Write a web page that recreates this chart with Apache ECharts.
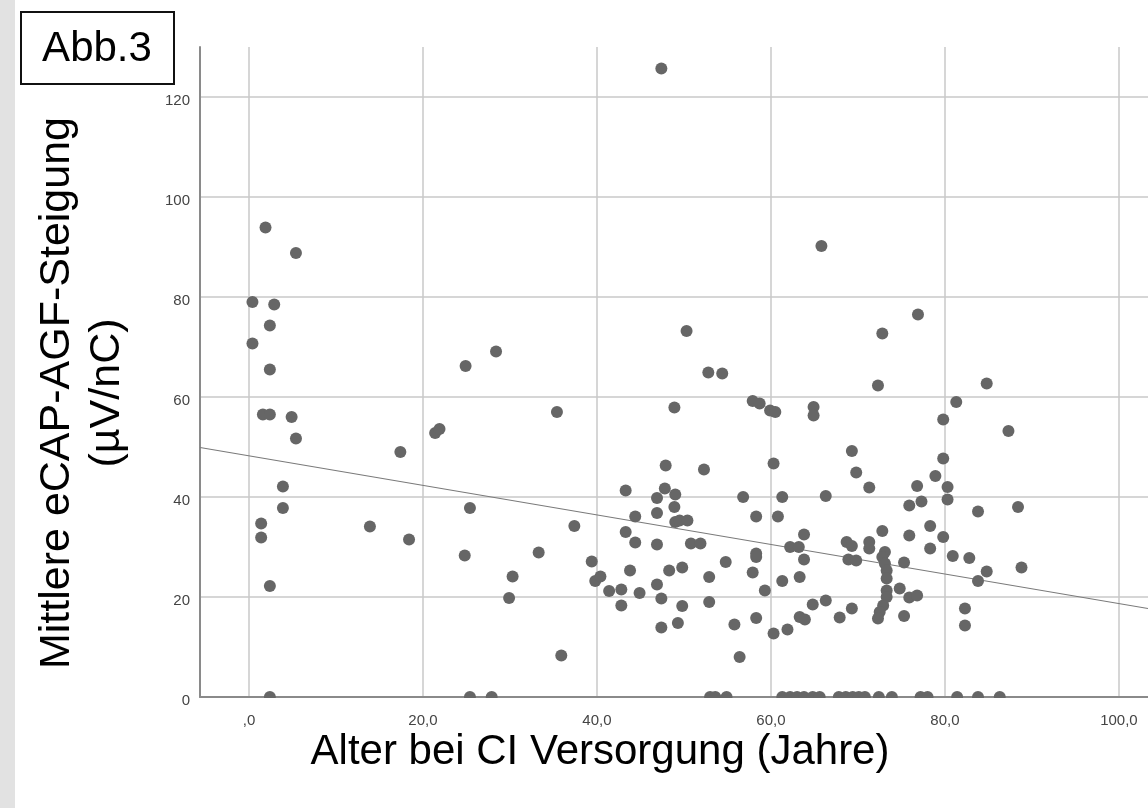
<!DOCTYPE html>
<html>
<head>
<meta charset="utf-8">
<script src="https://cdn.jsdelivr.net/npm/echarts@6/dist/echarts.min.js"></script>
<style>
html,body{margin:0;padding:0;background:#fff;}
#chart{width:1148px;height:808px;}
</style>
</head>
<body>
<div id="chart"></div>
<script>
// Age at CI implantation (years)
const ages = [
  1.9, 5.4, 0.4, 2.9, 2.4, 0.4, 2.4, 28.4, 24.9, 1.6, 2.4, 4.9, 5.4, 17.4, 35.4, 21.4, 21.9,
  3.9, 3.9, 1.4, 1.4, 13.9, 18.4, 25.4, 37.4, 24.8, 33.3, 39.4, 39.8, 30.3, 29.9, 2.4, 35.9,
  47.4, 65.8, 50.3, 72.8, 52.8, 54.4, 72.3, 48.9, 57.9, 58.7, 59.9, 60.5, 64.9, 64.9,
  47.9, 52.3, 60.3, 69.3, 69.8, 71.3, 43.3, 47.8, 49.0, 46.9, 56.8, 61.3, 66.3, 48.9,
  46.9, 44.4, 58.3, 60.8, 49.0, 49.5, 50.4, 43.3, 44.4, 46.9, 50.8, 51.9, 63.8, 62.2,
  63.2, 63.8, 68.7, 69.3, 68.9, 69.8, 71.3, 71.3, 72.8, 40.4, 41.4, 42.8, 44.9, 42.8,
  43.8, 46.9, 47.4, 48.3, 49.8, 49.8, 47.4, 49.3, 52.9, 52.9, 54.8, 57.9, 58.3, 58.3,
  59.3, 61.3, 63.3, 55.8, 58.3, 56.4, 60.3, 61.9, 63.3, 63.9, 64.8, 66.3, 67.9, 69.3,
  84.8, 81.3, 79.8, 87.3, 79.8, 78.9, 76.8, 80.3, 80.3, 75.9, 77.3, 83.8, 88.4, 75.9,
  78.3, 79.8, 78.3, 73.1, 72.8, 73.1, 73.3, 73.3, 75.3, 80.9, 82.8, 84.8, 83.8, 88.8,
  73.3, 73.3, 72.9, 72.5, 72.3, 74.8, 75.9, 76.8, 75.3, 82.3, 82.3, 76.9,
  2.4, 25.4, 27.9, 53.0, 53.6, 54.9, 61.3, 62.2, 63.0, 63.8, 64.8, 65.6, 67.8, 68.6,
  69.4, 70.1, 70.8, 72.4, 73.9, 77.2, 78.0, 81.4, 83.8, 86.3
];
// Mean eCAP-AGF slope (µV/nC)
const slopes = [
  93.9, 88.8, 79.0, 78.5, 74.3, 70.7, 65.5, 69.1, 66.2, 56.5, 56.5, 56.0, 51.7, 49.0, 57.0, 52.8, 53.6,
  42.1, 37.8, 34.7, 31.9, 34.1, 31.5, 37.8, 34.2, 28.3, 28.9, 27.1, 23.2, 24.1, 19.8, 22.2, 8.3,
  125.7, 90.2, 73.2, 72.7, 64.9, 64.7, 62.3, 57.9, 59.2, 58.7, 57.3, 57.0, 58.0, 56.3,
  46.3, 45.5, 46.7, 49.2, 44.9, 41.9, 41.3, 41.7, 40.5, 39.8, 40.0, 40.0, 40.2, 38.0,
  36.8, 36.1, 36.1, 36.1, 35.0, 35.3, 35.3, 33.0, 30.9, 30.5, 30.7, 30.7, 32.5, 30.0,
  30.0, 27.5, 31.0, 30.2, 27.5, 27.3, 31.0, 29.7, 33.2, 24.1, 21.2, 21.5, 20.8, 18.3,
  25.3, 22.5, 19.7, 25.3, 25.9, 18.2, 13.9, 14.8, 24.0, 19.0, 27.0, 24.9, 28.7, 28.0,
  21.3, 23.2, 24.0, 14.5, 15.8, 8.0, 12.7, 13.5, 16.0, 15.5, 18.5, 19.3, 15.9, 17.7,
  62.7, 59.0, 55.5, 53.2, 47.7, 44.2, 42.2, 42.0, 39.5, 38.3, 39.1, 37.1, 38.0, 32.3,
  34.2, 32.0, 29.7, 29.0, 28.0, 26.7, 25.3, 23.7, 26.9, 28.2, 27.8, 25.1, 23.2, 25.9,
  21.3, 20.0, 18.3, 17.0, 15.7, 21.7, 19.9, 20.3, 16.2, 17.7, 14.3, 76.5,
  0, 0, 0, 0, 0, 0, 0, 0, 0, 0, 0, 0, 0, 0,
  0, 0, 0, 0, 0, 0, 0, 0, 0, 0
];
// Fit line endpoints (read at the plot edges)
const fitX = [-5.63, 103.34];
const fitY = [49.9, 17.7];

const xTickValues = [0, 20, 40, 60, 80, 100];
const xTickLabels = [',0', '20,0', '40,0', '60,0', '80,0', '100,0'];
const yTickValues = [0, 20, 40, 60, 80, 100, 120];
const yTickLabels = ['0', '20', '40', '60', '80', '100', '120'];

const xTitle = 'Alter bei CI Versorgung (Jahre)';
const yTitle = 'Mittlere eCAP-AGF-Steigung\n(µV/nC)';
const figLabel = 'Abb.3';

const points = ages.map((a, i) => [a, slopes[i]]);
const fitData = fitX.map((x, i) => [x, fitY[i]]);

const FONT = "'Liberation Sans', Arial, sans-serif";
const chart = echarts.init(document.getElementById('chart'), null, {renderer: 'canvas'});

chart.setOption({
  backgroundColor: '#ffffff',
  animation: false,
  grid: {left: 200, right: 0, top: 47, bottom: 111, containLabel: false},
  xAxis: {
    type: 'value', min: -5.63, max: 103.34,
    axisLine: {show: true, onZero: false, lineStyle: {color: '#8a8a8a', width: 2}},
    axisTick: {show: false, customValues: xTickValues},
    splitLine: {show: true, lineStyle: {color: '#c8c8c8', width: 1.5}},
    axisLabel: {
      customValues: xTickValues, margin: 16,
      formatter: v => xTickLabels[xTickValues.indexOf(v)] ?? '',
      color: '#444', fontSize: 15, fontFamily: FONT
    }
  },
  yAxis: {
    type: 'value', min: 0, max: 130,
    axisLine: {show: true, onZero: false, lineStyle: {color: '#8a8a8a', width: 2}},
    axisTick: {show: false, customValues: yTickValues},
    splitLine: {show: true, lineStyle: {color: '#c8c8c8', width: 1.5}},
    axisLabel: {
      customValues: yTickValues, margin: 10,
      formatter: v => yTickLabels[yTickValues.indexOf(v)] ?? '',
      color: '#444', fontSize: 15, fontFamily: FONT, verticalAlign: 'top', lineHeight: 8
    }
  },
  series: [
    {
      type: 'scatter', data: points, symbol: 'circle', symbolSize: 12,
      itemStyle: {color: '#666666', opacity: 1}, z: 3
    },
    {
      type: 'line', data: fitData, symbol: 'none', z: 2,
      lineStyle: {color: '#7a7a7a', width: 1.2}
    }
  ],
  graphic: [
    {type: 'rect', left: 0, top: 0, shape: {x: 0, y: 0, width: 15, height: 808}, style: {fill: '#e2e2e2'}, z: 10},
    {type: 'rect', shape: {x: 201, y: 698, width: 947, height: 9}, style: {fill: '#ffffff'}, z: 10},
    {type: 'rect', shape: {x: 21, y: 12, width: 153, height: 72}, style: {fill: '#ffffff', stroke: '#111', lineWidth: 2}, z: 10},
    {type: 'text', x: 97, y: 49, z: 11,
      style: {text: figLabel, font: '42px ' + FONT, fill: '#000', textAlign: 'center', textVerticalAlign: 'middle'}},
    {type: 'text', x: 600, y: 752, z: 11,
      style: {text: xTitle, font: '42px ' + FONT, fill: '#000', textAlign: 'center', textVerticalAlign: 'middle'}},
    {type: 'text', x: 82, y: 393, rotation: Math.PI / 2, z: 11,
      style: {text: yTitle, font: '43px ' + FONT, lineHeight: 50, fill: '#000', textAlign: 'center', textVerticalAlign: 'middle'}}
  ]
});
</script>
</body>
</html>
